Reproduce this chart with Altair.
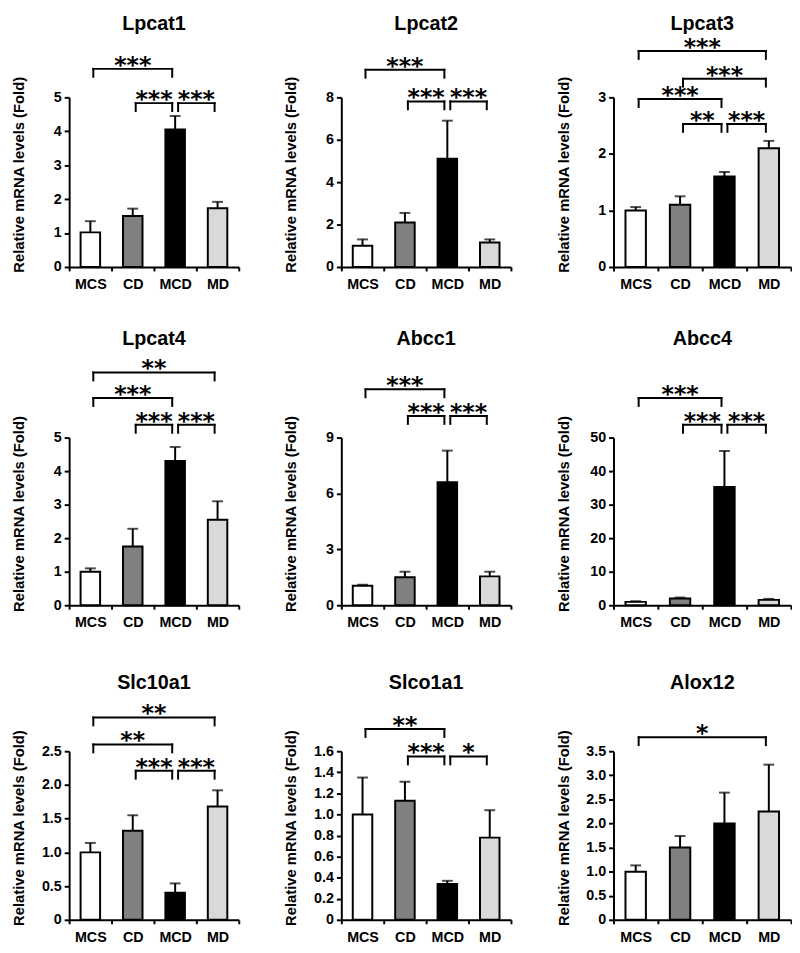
import altair as alt
import pandas as pd

groups = ["MCS", "CD", "MCD", "MD"]
bar_colors = ["#ffffff", "#808080", "#000000", "#d9d9d9"]

genes = ["Lpcat1", "Lpcat2", "Lpcat3",
         "Lpcat4", "Abcc1", "Abcc4",
         "Slc10a1", "Slco1a1", "Alox12"]

means = {
    "Lpcat1": [1.02, 1.50, 4.05, 1.73],
    "Lpcat2": [1.00, 2.10, 5.10, 1.15],
    "Lpcat3": [1.00, 1.10, 1.60, 2.10],
    "Lpcat4": [1.00, 1.75, 4.30, 2.55],
    "Abcc1": [1.05, 1.50, 6.60, 1.55],
    "Abcc4": [1.00, 2.00, 35.3, 1.60],
    "Slc10a1": [1.00, 1.32, 0.40, 1.68],
    "Slco1a1": [1.00, 1.13, 0.34, 0.78],
    "Alox12": [1.00, 1.50, 2.00, 2.25],
}

errors = {
    "Lpcat1": [0.33, 0.22, 0.40, 0.19],
    "Lpcat2": [0.30, 0.45, 1.80, 0.15],
    "Lpcat3": [0.06, 0.15, 0.08, 0.13],
    "Lpcat4": [0.10, 0.53, 0.42, 0.55],
    "Abcc1": [0.05, 0.30, 1.70, 0.25],
    "Abcc4": [0.20, 0.30, 10.7, 0.30],
    "Slc10a1": [0.14, 0.23, 0.14, 0.24],
    "Slco1a1": [0.35, 0.18, 0.03, 0.26],
    "Alox12": [0.13, 0.24, 0.64, 0.97],
}

y_ticks = {
    "Lpcat1": [0, 1, 2, 3, 4, 5],
    "Lpcat2": [0, 2, 4, 6, 8],
    "Lpcat3": [0, 1, 2, 3],
    "Lpcat4": [0, 1, 2, 3, 4, 5],
    "Abcc1": [0, 3, 6, 9],
    "Abcc4": [0, 10, 20, 30, 40, 50],
    "Slc10a1": [0, 0.5, 1.0, 1.5, 2.0, 2.5],
    "Slco1a1": [0, 0.2, 0.4, 0.6, 0.8, 1.0, 1.2, 1.4, 1.6],
    "Alox12": [0, 0.5, 1.0, 1.5, 2.0, 2.5, 3.0, 3.5],
}

decimal_labels = ["Slc10a1", "Slco1a1", "Alox12"]

# significance brackets: (from group, to group, stars, bracket height in data units)
brackets = {
    "Lpcat1": [("MCS", "MCD", "***", 5.84), ("CD", "MCD", "***", 4.83), ("MCD", "MD", "***", 4.83)],
    "Lpcat2": [("MCS", "MCD", "***", 9.30), ("CD", "MCD", "***", 7.81), ("MCD", "MD", "***", 7.81)],
    "Lpcat3": [("MCS", "MD", "***", 3.82), ("CD", "MD", "***", 3.33), ("MCS", "MCD", "***", 2.97),
               ("CD", "MCD", "**", 2.53), ("MCD", "MD", "***", 2.53)],
    "Lpcat4": [("MCS", "MD", "**", 6.94), ("MCS", "MCD", "***", 6.18), ("CD", "MCD", "***", 5.38),
               ("MCD", "MD", "***", 5.38)],
    "Abcc1": [("MCS", "MCD", "***", 11.59), ("CD", "MCD", "***", 10.16), ("MCD", "MD", "***", 10.16)],
    "Abcc4": [("MCS", "MCD", "***", 61.8), ("CD", "MCD", "***", 53.8), ("MCD", "MD", "***", 53.8)],
    "Slc10a1": [("MCS", "MD", "**", 3.00), ("MCS", "MCD", "**", 2.60), ("CD", "MCD", "***", 2.21),
                ("MCD", "MD", "***", 2.21)],
    "Slco1a1": [("MCS", "MCD", "**", 1.81), ("CD", "MCD", "***", 1.55), ("MCD", "MD", "*", 1.55)],
    "Alox12": [("MCS", "MD", "*", 3.79)],
}

y_title = "Relative mRNA levels (Fold)"
FONT = "Liberation Sans"

col_widths = [172, 172, 180]
row_heights = [172, 170, 171]
title_offsets = [74, 100, 69]


def panel(gene, width, height, title_off):
    df = pd.DataFrame({"group": groups, "mean": means[gene], "err": errors[gene]})
    df["upper"] = df["mean"] + df["err"]

    ymax = y_ticks[gene][-1]
    yscale = alt.Scale(domain=[0, ymax], nice=False, zero=True)
    if gene in decimal_labels:
        lab = "datum.value == 0 ? '0' : format(datum.value, '.1f')"
    else:
        lab = "format(datum.value, 'd')"
    yaxis = alt.Axis(values=y_ticks[gene], title=y_title, labelExpr=lab, grid=False,
                     tickSize=5, labelPadding=3, titlePadding=5,
                     minExtent=38, maxExtent=38, titleY=height / 2 - 8)
    xscale = alt.Scale(domain=groups, paddingInner=0, paddingOuter=0)
    xaxis = alt.Axis(title=None, labelAngle=0, tickBand="extent", tickSize=4,
                     labelPadding=7, grid=False)

    bars = alt.Chart(df).mark_bar(
        width=alt.RelativeBandSize(0.46), stroke="black", strokeWidth=2
    ).encode(
        x=alt.X("group:N", scale=xscale, axis=xaxis, sort=groups),
        y=alt.Y("mean:Q", scale=yscale, axis=yaxis),
        color=alt.Color("group:N", scale=alt.Scale(domain=groups, range=bar_colors), legend=None),
    )
    ebar = alt.Chart(df).mark_rule(color="black", strokeWidth=2).encode(
        x=alt.X("group:N", scale=xscale, axis=None, sort=groups),
        y=alt.Y("mean:Q", scale=yscale, axis=yaxis),
        y2="upper:Q",
    )
    ecap = alt.Chart(df).mark_tick(color="black", thickness=2, size=11).encode(
        x=alt.X("group:N", scale=xscale, axis=None, sort=groups),
        y=alt.Y("upper:Q", scale=yscale, axis=yaxis),
    )

    bdf = pd.DataFrame(brackets[gene], columns=["a", "b", "stars", "level"])
    bdf["xa"] = [groups.index(a) + 0.5 for a in bdf["a"]]
    bdf["xb"] = [groups.index(b) + 0.5 for b in bdf["b"]]
    bdf["xm"] = (bdf["xa"] + bdf["xb"]) / 2
    xq = alt.Scale(domain=[0, len(groups)], nice=False, zero=False)

    hline = alt.Chart(bdf).mark_rule(color="black", strokeWidth=2, xOffset=3, x2Offset=-3,
                                     strokeCap="square").encode(
        x=alt.X("xa:Q", scale=xq, axis=None),
        x2="xb:Q",
        y=alt.Y("level:Q", scale=yscale, axis=yaxis),
    )
    lleg = alt.Chart(bdf).mark_rule(color="black", strokeWidth=2, xOffset=3, y2Offset=8,
                                    strokeCap="square").encode(
        x=alt.X("xa:Q", scale=xq, axis=None),
        y=alt.Y("level:Q", scale=yscale, axis=yaxis),
        y2="level:Q",
    )
    rleg = alt.Chart(bdf).mark_rule(color="black", strokeWidth=2, xOffset=-3, y2Offset=8,
                                    strokeCap="square").encode(
        x=alt.X("xb:Q", scale=xq, axis=None),
        y=alt.Y("level:Q", scale=yscale, axis=yaxis),
        y2="level:Q",
    )
    stars = alt.Chart(bdf).mark_text(font="DejaVu Sans", fontWeight="bold", fontSize=24,
                                     baseline="alphabetic", dy=4, color="black").encode(
        x=alt.X("xm:Q", scale=xq, axis=None),
        y=alt.Y("level:Q", scale=yscale, axis=yaxis),
        text="stars:N",
    )
    title = alt.Chart(pd.DataFrame({"gene": [gene]})).mark_text(
        font=FONT, fontWeight="bold", fontSize=20, baseline="middle", color="black"
    ).encode(
        text="gene:N",
        x=alt.value(width / 2),
        y=alt.value(-title_off),
    )

    return alt.layer(bars, ebar, ecap, hline, lleg, rleg, stars, title).resolve_scale(
        x="independent"
    ).properties(width=width, height=height)


rows = []
for r in range(3):
    row = [panel(genes[r * 3 + c], col_widths[c], row_heights[r], title_offsets[r]) for c in range(3)]
    rows.append(alt.hconcat(*row, spacing=44))

chart = alt.vconcat(
    rows[0], alt.vconcat(rows[1], rows[2], spacing=44), spacing=38
).properties(
    padding={"top": 0, "left": 3, "right": 0, "bottom": 0}
).configure_view(
    stroke=None
).configure_axis(
    domainColor="black", domainWidth=2, tickColor="black", tickWidth=2,
    labelColor="black", labelFont=FONT, labelFontWeight="bold", labelFontSize=14.5,
    titleColor="black", titleFont=FONT, titleFontWeight="bold", titleFontSize=15,
)

chart.save("out.html", embed_options={"renderer": "svg", "actions": False})
